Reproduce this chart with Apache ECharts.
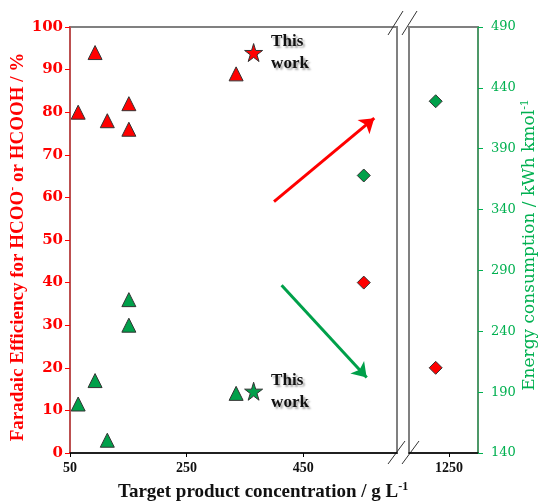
<!DOCTYPE html>
<html>
<head>
<meta charset="utf-8">
<script src="https://cdn.jsdelivr.net/npm/echarts@6/dist/echarts.min.js"></script>
<style>
  html, body { margin: 0; padding: 0; background: #fff; }
  #chart { width: 541px; height: 503px; }
</style>
</head>
<body>
<div id="chart"></div>
<script>
// faradaic efficiency (left axis), literature
const feLit = [[64, 80], [93, 94], [114, 78], [151, 82], [151, 76], [335, 89]]
const feThisWork = [[365, 94]]
// energy consumption plotted on left axis scale (literature)
const ecLit = [[64, 11.5], [93, 17], [114, 3], [151, 36], [151, 30], [335, 14]]
const ecThisWork = [[365, 14.5]]
// diamonds on right axis (kWh kmol-1)
const greenDiamondsA = [[554, 368]]
const greenDiamondsB = [[1227, 429]]
const redDiamondsA = [[554, 280]]
const redDiamondsB = [[1227, 210]]
// ticks
const xTicksA = [50, 250, 450]
const xTicksB = [1250]
const rightTicks = [140, 190, 240, 290, 340, 390, 440, 490]
// trend arrows in data coords (left panel)
const redArrow = [[400, 59], [572, 78.6]]
const greenArrow = [[413, 39.4], [559, 17.7]]

const RED = '#FF0000'
const GREEN = '#00B050'
const MGREEN = '#00A04A'
const GRAY = '#808080'
const SERIF = 'Liberation Serif'
const STAR = 'path://M50,0 L61,35 L98,35 L68,57 L79,91 L50,70 L21,91 L32,57 L2,35 L39,35 Z'

const chart = echarts.init(document.getElementById('chart'))

const thisWorkLabel = {
  show: true,
  position: 'right',
  distance: 8,
  formatter: 'This\nwork',
  fontFamily: SERIF,
  fontWeight: 'bold',
  fontSize: 17,
  lineHeight: 22,
  color: '#111',
  textShadowColor: 'rgba(0,0,0,0.35)',
  textShadowBlur: 2,
  textShadowOffsetX: 2,
  textShadowOffsetY: 2
}

const mk = (color) => ({ color, opacity: 1, borderColor: '#333', borderWidth: 1 })
const plain = (v) => String(v)

const option = {
  animation: false,
  grid: [
    { left: 70, top: 27, width: 327, height: 426, show: true, borderColor: GRAY, borderWidth: 2, outerBoundsMode: 'none', containLabel: false },
    { left: 409, top: 27, width: 69, height: 426, show: true, borderColor: GRAY, borderWidth: 2, outerBoundsMode: 'none', containLabel: false }
  ],
  xAxis: [
    {
      type: 'value', gridIndex: 0, min: 50, max: 611,
      splitLine: { show: false },
      axisLine: { lineStyle: { color: '#000', width: 1.5 } },
      axisTick: { show: true, length: 4, customValues: xTicksA, lineStyle: { color: '#000' } },
      axisLabel: { customValues: xTicksA, formatter: plain, margin: 8, color: '#111', fontFamily: SERIF, fontWeight: 'bold', fontSize: 14 }
    },
    {
      type: 'value', gridIndex: 1, min: 1181, max: 1300,
      splitLine: { show: false },
      axisLine: { lineStyle: { color: '#000', width: 1.5 } },
      axisTick: { show: true, length: 4, customValues: xTicksB, lineStyle: { color: '#000' } },
      axisLabel: { customValues: xTicksB, formatter: plain, margin: 8, color: '#111', fontFamily: SERIF, fontWeight: 'bold', fontSize: 14 }
    }
  ],
  yAxis: [
    {
      type: 'value', gridIndex: 0, position: 'left', min: 0, max: 100, interval: 10,
      splitLine: { show: false },
      axisLine: { show: true, lineStyle: { color: '#D04040', width: 1.5 } },
      axisTick: { show: true, length: 5, lineStyle: { color: RED } },
      axisLabel: { margin: 7, color: RED, fontFamily: 'DejaVu Serif', fontWeight: 'bold', fontSize: 15 },
      name: '{t|Faradaic Efficiency for HCOO}{s|-}{t| or HCOOH / %}',
      nameLocation: 'middle',
      nameGap: 41,
      nameRotate: 90,
      nameMoveOverlap: false,
      nameTextStyle: {
        padding: [0, 14, 0, 0],
        rich: {
          t: { color: RED, fontFamily: SERIF, fontWeight: 'bold', fontSize: 19 },
          s: { color: RED, fontFamily: SERIF, fontWeight: 'bold', fontSize: 12, padding: [0, 0, 10, 0] }
        }
      }
    },
    {
      type: 'value', gridIndex: 0, position: 'right', min: 140, max: 490, show: false
    },
    {
      type: 'value', gridIndex: 1, position: 'right', min: 140, max: 490,
      splitLine: { show: false },
      axisLine: { show: true, lineStyle: { color: '#3CA060', width: 1.5 } },
      axisTick: { show: true, length: 5, customValues: rightTicks, lineStyle: { color: GREEN } },
      axisLabel: { customValues: rightTicks, margin: 13, color: GREEN, fontFamily: 'DejaVu Serif', fontSize: 13 },
      name: '{t|Energy consumption / kWh kmol}{s|-1}',
      nameLocation: 'middle',
      nameGap: 42,
      nameRotate: 90,
      nameTextStyle: {
        padding: [0, 10, 0, 0],
        rich: {
          t: { color: GREEN, fontFamily: 'DejaVu Serif', fontSize: 17 },
          s: { color: GREEN, fontFamily: 'DejaVu Serif', fontSize: 11, padding: [0, 0, 9, 0] }
        }
      }
    }
  ],
  series: [
    {
      type: 'scatter', xAxisIndex: 0, yAxisIndex: 0, data: feLit,
      symbol: 'triangle', symbolSize: 14, itemStyle: mk(RED),
      markLine: {
        silent: true, symbol: ['none', 'arrow'], symbolSize: 14,
        label: { show: false },
        lineStyle: { color: RED, width: 3, type: 'solid', opacity: 1 },
        data: [[{ coord: redArrow[0] }, { coord: redArrow[1] }]]
      }
    },
    {
      type: 'scatter', xAxisIndex: 0, yAxisIndex: 0, data: feThisWork,
      symbol: STAR, symbolSize: 18, itemStyle: mk(RED),
      label: thisWorkLabel
    },
    {
      type: 'scatter', xAxisIndex: 0, yAxisIndex: 0, data: ecLit,
      symbol: 'triangle', symbolSize: 14, itemStyle: mk(MGREEN),
      markLine: {
        silent: true, symbol: ['none', 'arrow'], symbolSize: 14,
        label: { show: false },
        lineStyle: { color: MGREEN, width: 3, type: 'solid', opacity: 1 },
        data: [[{ coord: greenArrow[0] }, { coord: greenArrow[1] }]]
      }
    },
    {
      type: 'scatter', xAxisIndex: 0, yAxisIndex: 0, data: ecThisWork,
      symbol: STAR, symbolSize: 18, itemStyle: mk(MGREEN),
      label: thisWorkLabel
    },
    {
      type: 'scatter', xAxisIndex: 0, yAxisIndex: 1, data: greenDiamondsA,
      symbol: 'diamond', symbolSize: 13, itemStyle: mk(MGREEN)
    },
    {
      type: 'scatter', xAxisIndex: 1, yAxisIndex: 2, data: greenDiamondsB,
      symbol: 'diamond', symbolSize: 13, itemStyle: mk(MGREEN)
    },
    {
      type: 'scatter', xAxisIndex: 0, yAxisIndex: 1, data: redDiamondsA,
      symbol: 'diamond', symbolSize: 13, itemStyle: mk(RED)
    },
    {
      type: 'scatter', xAxisIndex: 1, yAxisIndex: 2, data: redDiamondsB,
      symbol: 'diamond', symbolSize: 13, itemStyle: mk(RED)
    }
  ],
  graphic: [
    // x axis title spanning both panels
    {
      type: 'text', left: 118, top: 481,
      style: {
        text: '{t|Target product concentration / g L}{s|-1}',
        rich: {
          t: { fill: '#111', fontFamily: SERIF, fontWeight: 'bold', fontSize: 19 },
          s: { fill: '#111', fontFamily: SERIF, fontWeight: 'bold', fontSize: 12, padding: [0, 0, 10, 0] }
        }
      }
    },
    // axis break marks
    { type: 'line', shape: { x1: 388, y1: 35, x2: 403, y2: 11 }, style: { stroke: '#333', lineWidth: 1 } },
    { type: 'line', shape: { x1: 402, y1: 35, x2: 417, y2: 11 }, style: { stroke: '#333', lineWidth: 1 } },
    { type: 'line', shape: { x1: 388, y1: 464, x2: 405, y2: 441 }, style: { stroke: '#333', lineWidth: 1 } },
    { type: 'line', shape: { x1: 402, y1: 464, x2: 419, y2: 441 }, style: { stroke: '#333', lineWidth: 1 } }
  ]
}

chart.setOption(option)
</script>
</body>
</html>
